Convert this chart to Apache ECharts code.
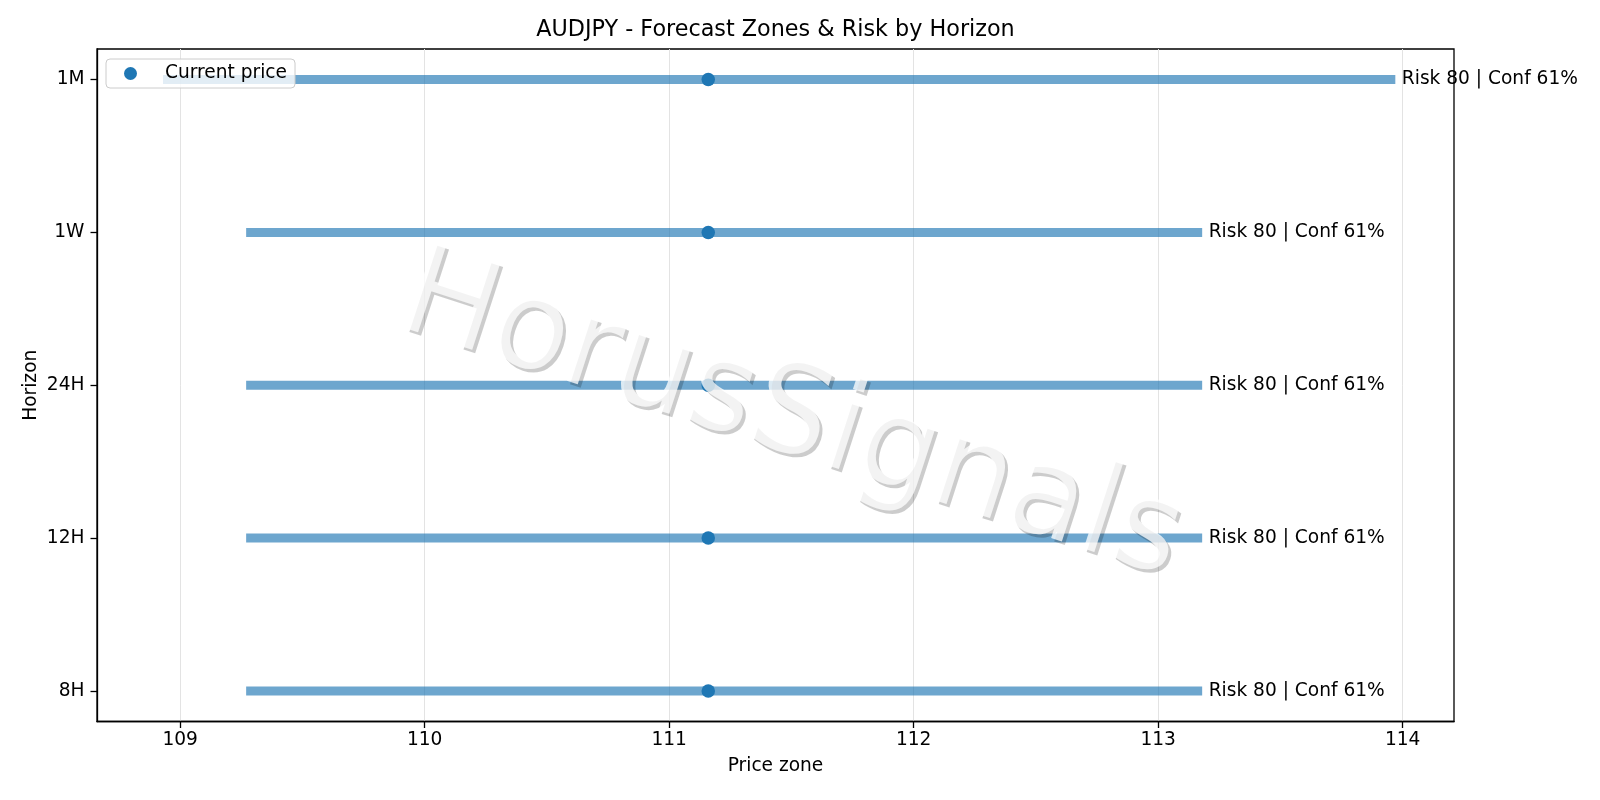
<!DOCTYPE html>
<html>
<head>
<meta charset="utf-8">
<script src="https://cdn.jsdelivr.net/npm/echarts@6/dist/echarts.min.js"></script>
<style>html,body{margin:0;padding:0;background:#fff;}#c{width:1600px;height:800px;}</style>
</head>
<body>
<div id="c"></div>
<script>
var horizons = ['8H', '12H', '24H', '1W', '1M'];
var zoneLow = [109.27, 109.27, 109.27, 109.27, 108.93];
var zoneHigh = [113.18, 113.18, 113.18, 113.18, 113.97];
var currentPrice = [111.16, 111.16, 111.16, 111.16, 111.16];
var riskScore = [80, 80, 80, 80, 80];
var confidence = [61, 61, 61, 61, 61];
var xTicks = [109, 110, 111, 112, 113, 114];
var yTicks = [0, 1, 2, 3, 4];
var xRange = [108.66, 114.21];
var yRange = [-0.2, 4.2];

var FONT = 'DejaVu Sans';
var FS = 18.6;
var chart = echarts.init(document.getElementById('c'), null, {renderer: 'canvas'});

var zoneData = horizons.map(function (h, i) {
  return [zoneLow[i], zoneHigh[i], i, riskScore[i], confidence[i]];
});
var priceData = horizons.map(function (h, i) { return [currentPrice[i], i]; });

var option = {
  animation: false,
  backgroundColor: '#ffffff',
  title: {
    text: 'AUDJPY - Forecast Zones & Risk by Horizon',
    left: 775.5, textAlign: 'center', top: 19, padding: 0,
    textStyle: {fontFamily: FONT, fontSize: 22.3, fontWeight: 'normal', color: '#000'}
  },
  legend: {
    left: 106, top: 59,
    padding: [5, 8, 5, 18],
    itemWidth: 13, itemHeight: 13,
    backgroundColor: 'rgba(255,255,255,0.8)',
    borderColor: '#cccccc', borderWidth: 1, borderRadius: 4,
    textStyle: {fontFamily: FONT, fontSize: FS, color: '#000', padding: [0, 0, 0, 23]},
    data: [{name: 'Current price', icon: 'circle'}]
  },
  grid: {
    left: 97, right: 146, top: 49, bottom: 78.5,
    show: true, borderColor: '#000', borderWidth: 1.3, backgroundColor: 'transparent'
  },
  xAxis: {
    type: 'value', min: xRange[0], max: xRange[1],
    name: 'Price zone', nameLocation: 'middle', nameGap: 35.5,
    nameTextStyle: {fontFamily: FONT, fontSize: FS, color: '#000'},
    axisLine: {show: true, onZero: false, lineStyle: {color: '#000', width: 1.3}},
    axisTick: {show: true, length: 6.5, customValues: xTicks, lineStyle: {color: '#000', width: 1.3}},
    axisLabel: {customValues: xTicks, margin: 9.5, fontFamily: FONT, fontSize: FS, color: '#000'},
    splitLine: {show: true, lineStyle: {color: '#e3e3e3', width: 1}}
  },
  yAxis: {
    type: 'value', min: yRange[0], max: yRange[1],
    name: 'Horizon', nameLocation: 'middle', nameGap: 56, nameMoveOverlap: false,
    nameTextStyle: {fontFamily: FONT, fontSize: FS, color: '#000'},
    axisLine: {show: true, onZero: false, lineStyle: {color: '#000', width: 1.3}},
    axisTick: {show: true, length: 6.5, customValues: yTicks, lineStyle: {color: '#000', width: 1.3}},
    axisLabel: {
      customValues: yTicks, margin: 12.5, fontFamily: FONT, fontSize: FS, color: '#000',
      formatter: function (v) { return horizons[Math.round(v)] || ''; }
    },
    splitLine: {show: false}
  },
  series: [
    {
      type: 'custom',
      name: 'zones',
      data: zoneData,
      z: 2,
      renderItem: function (params, api) {
        var a = api.coord([api.value(0), api.value(2)]);
        var b = api.coord([api.value(1), api.value(2)]);
        return {
          type: 'group',
          children: [
            {
              type: 'line',
              shape: {x1: a[0], y1: a[1], x2: b[0], y2: b[1]},
              style: {stroke: 'rgba(31,119,180,0.65)', lineWidth: 9, lineCap: 'butt'}
            },
            {
              type: 'text',
              x: b[0] + 6.5, y: b[1],
              style: {
                text: 'Risk ' + api.value(3) + ' | Conf ' + api.value(4) + '%',
                fontFamily: FONT, fontSize: FS, fill: '#000',
                align: 'left', verticalAlign: 'middle'
              }
            }
          ]
        };
      }
    },
    {
      type: 'scatter',
      name: 'Current price',
      data: priceData,
      symbol: 'circle',
      symbolSize: 13.5,
      z: 3,
      itemStyle: {color: '#1f77b4', opacity: 1}
    }
  ],
  graphic: [
    {
      type: 'text', z: 100, silent: true,
      x: 794, y: 423,
      rotation: -18 * Math.PI / 180,
      style: {
        text: 'HorusSignals', fontFamily: FONT, fontSize: 124.5,
        fill: 'rgba(0,0,0,0.2)', align: 'center', verticalAlign: 'middle'
      }
    },
    {
      type: 'text', z: 101, silent: true,
      x: 791, y: 419.5,
      rotation: -18 * Math.PI / 180,
      style: {
        text: 'HorusSignals', fontFamily: FONT, fontSize: 124.5,
        fill: 'rgba(255,255,255,0.76)', align: 'center', verticalAlign: 'middle'
      }
    }
  ]
};
chart.setOption(option);
</script>
</body>
</html>
